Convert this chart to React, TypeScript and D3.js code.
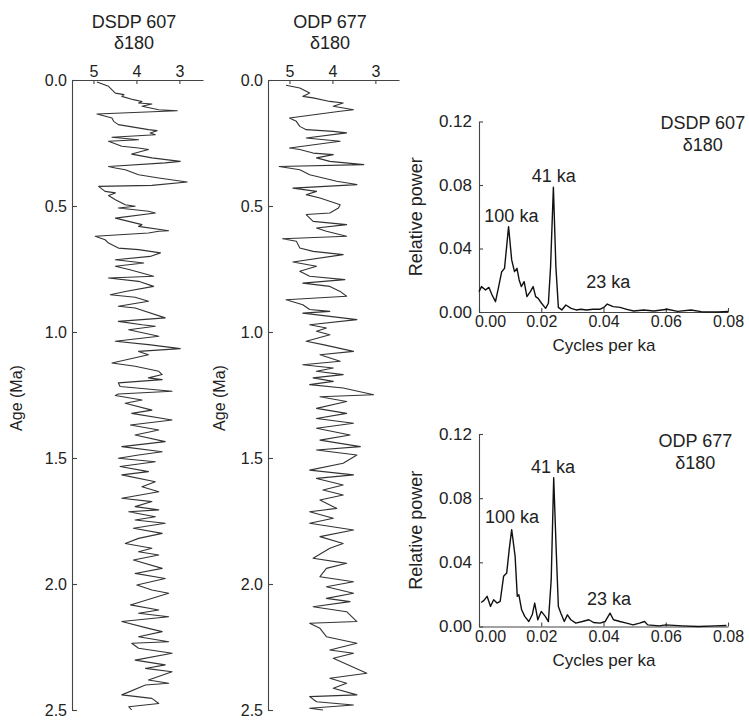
import React, { useEffect, useRef } from "react";
import * as d3 from "d3";

// ---- oxygen isotope records (age in Ma, d18O in permil) ----
const dsdpAge = [
  0.008, 0.025, 0.052, 0.058, 0.065, 0.078, 0.085, 0.091, 0.095, 0.104, 0.118, 0.122,
  0.135, 0.151, 0.164, 0.177, 0.197, 0.201, 0.21, 0.217, 0.227, 0.237, 0.243, 0.263,
  0.27, 0.276, 0.294, 0.309, 0.323, 0.329, 0.343, 0.349, 0.356, 0.376, 0.389, 0.405,
  0.418, 0.422, 0.442, 0.448, 0.458, 0.475, 0.495, 0.501, 0.508, 0.521, 0.528, 0.548,
  0.574, 0.581, 0.598, 0.6, 0.607, 0.62, 0.634, 0.647, 0.667, 0.673, 0.686, 0.7,
  0.713, 0.726, 0.739, 0.753, 0.779, 0.786, 0.799, 0.819, 0.839, 0.852, 0.862, 0.878,
  0.898, 0.905, 0.944, 0.958, 0.971, 0.977, 0.991, 1.017, 1.037, 1.05, 1.066, 1.077,
  1.09, 1.123, 1.136, 1.156, 1.169, 1.182, 1.189, 1.202, 1.216, 1.235, 1.246,
  1.252, 1.27, 1.283, 1.31, 1.323, 1.349, 1.369, 1.389, 1.409, 1.435, 1.455, 1.475,
  1.488, 1.501, 1.515, 1.534, 1.554, 1.567, 1.594, 1.614, 1.634, 1.66, 1.673, 1.693,
  1.706, 1.713, 1.733, 1.746, 1.759, 1.779, 1.799, 1.819, 1.839, 1.858, 1.872, 1.885,
  1.905, 1.938, 1.958, 1.978, 2.004, 2.024, 2.037, 2.083, 2.103, 2.116, 2.13, 2.149,
  2.176, 2.189, 2.209, 2.229, 2.235, 2.255, 2.275, 2.302, 2.321, 2.335, 2.348, 2.381,
  2.394, 2.401, 2.44, 2.454, 2.474, 2.487, 2.5,
];
const dsdpIso = [
  4.92, 4.65, 4.49, 4.29, 4.34, 4.07, 3.87, 3.95, 3.64, 3.87, 3.48, 3.05,
  4.92, 4.57, 4.53, 4.42, 3.72, 3.52, 3.68, 3.56, 4.57, 3.95, 4.65, 4.34,
  3.95, 3.72, 4.11, 3.64, 2.98, 3.33, 4.65, 4.49, 4.26, 3.95, 3.48, 2.82,
  3.64, 4.88, 4.73, 4.49, 4.65, 4.49, 4.26, 4.03, 4.42, 3.72, 3.56, 4.49,
  3.87, 3.95, 3.25, 3.48, 3.72, 4.96, 4.73, 4.65, 4.42, 3.95, 3.44, 3.68,
  4.49, 3.83, 4.49, 4.15, 3.6, 4.65, 3.95, 3.6, 4.26, 4.61, 4.03, 3.72,
  4.42, 4.03, 3.33, 4.42, 3.87, 3.56, 4.18, 3.48, 4.49, 3.72, 2.98, 3.95,
  3.72, 4.57, 4.03, 3.48, 3.4, 3.72, 3.4, 4.42, 4.38, 3.17, 4.42,
  4.49, 3.87, 4.26, 3.64, 4.11, 3.17, 4.14, 3.48, 4.03, 3.33, 4.34, 3.4,
  3.95, 4.42, 3.56, 4.38, 3.72, 4.34, 3.56, 3.87, 3.48, 4.34, 3.64, 4.03,
  3.48, 4.18, 3.56, 4.03, 3.33, 4.07, 3.4, 3.95, 4.26, 3.64, 3.95, 3.48,
  4.07, 3.4, 4.03, 3.33, 3.99, 3.64, 3.25, 4.14, 3.48, 3.95, 3.25, 4.34,
  3.72, 3.4, 3.95, 3.25, 4.11, 3.95, 3.17, 4.03, 3.33, 3.79, 3.17, 3.72,
  3.25, 3.79, 4.34, 3.64, 3.48, 4.18, 4.11,
];

const odpAge = [
  0.021, 0.032, 0.052, 0.065, 0.071, 0.085, 0.091, 0.104, 0.118, 0.124, 0.151, 0.164,
  0.184, 0.197, 0.204, 0.21, 0.23, 0.243, 0.27, 0.276, 0.29, 0.296, 0.309, 0.323,
  0.336, 0.343, 0.356, 0.376, 0.402, 0.415, 0.429, 0.442, 0.455, 0.468, 0.495, 0.508,
  0.528, 0.534, 0.561, 0.574, 0.587, 0.6, 0.62, 0.63, 0.64, 0.667, 0.68, 0.693,
  0.722, 0.739, 0.759, 0.779, 0.792, 0.806, 0.819, 0.839, 0.858, 0.872, 0.892, 0.911,
  0.918, 0.925, 0.951, 0.971, 0.984, 0.997, 1.011, 1.037, 1.05, 1.077, 1.09, 1.116,
  1.13, 1.143, 1.156, 1.169, 1.182, 1.196, 1.209, 1.222, 1.249,
  1.257, 1.276, 1.303, 1.323, 1.343, 1.362, 1.382, 1.409, 1.429, 1.455, 1.468, 1.488,
  1.521, 1.548, 1.567, 1.581, 1.607, 1.627, 1.647, 1.667, 1.7, 1.713, 1.739, 1.759,
  1.786, 1.812, 1.839, 1.858, 1.898, 1.918, 1.938, 1.971, 1.991, 2.011, 2.037, 2.057,
  2.07, 2.09, 2.11, 2.149, 2.156, 2.176, 2.209, 2.235, 2.262, 2.275, 2.295, 2.354,
  2.374, 2.394, 2.414, 2.44, 2.447, 2.467, 2.48, 2.493, 2.5,
];
const odpIso = [
  5.08, 4.76, 4.53, 4.69, 4.45, 4.06, 3.75, 3.98, 3.51, 3.82, 5.0, 4.84,
  4.76, 4.61, 3.98, 3.67, 4.61, 3.82, 5.0, 4.76, 4.45, 3.98, 4.37, 4.06,
  3.27, 5.24, 4.76, 4.53, 3.9, 3.43, 4.92, 4.37, 4.61, 4.29, 3.82, 3.86,
  4.06, 4.61, 4.45, 3.67, 4.37, 4.14, 3.67, 5.16, 4.84, 4.76, 4.45, 3.75,
  4.92, 4.37, 4.76, 4.53, 3.71, 4.69, 4.06, 3.82, 3.67, 5.08, 4.69, 4.53,
  4.06, 4.69, 3.43, 4.53, 4.14, 4.37, 4.06, 4.61, 4.22, 3.51, 4.29, 3.82,
  4.69, 3.98, 4.37, 3.75, 4.45, 3.98, 4.53, 3.75, 3.04,
  4.29, 3.67, 4.37, 3.67, 4.37, 3.51, 4.37, 3.59, 4.29, 3.35, 4.37, 3.43,
  3.75, 4.53, 3.51, 4.37, 3.75, 4.22, 3.75, 4.29, 3.9, 4.53, 3.98, 4.53,
  3.51, 4.29, 3.75, 4.06, 4.45, 3.67, 4.14, 4.29, 3.51, 4.14, 3.51, 4.14,
  3.59, 4.45, 3.67, 3.43, 4.53, 4.29, 4.14, 3.43, 4.06, 3.51, 3.98, 3.2,
  4.06, 3.67, 3.98, 3.43, 4.53, 4.37, 3.51, 4.53, 4.22,
];

// ---- power spectra (cycles per ka, relative power) ----
const dsdpFreq = [
  0.0, 0.0008, 0.0021, 0.0032, 0.0042, 0.0053, 0.0062, 0.0073, 0.0082, 0.0095, 0.0105, 0.0114,
  0.0122, 0.0129, 0.0136, 0.0145, 0.0154, 0.0165, 0.0174, 0.0182, 0.019, 0.0201, 0.0214, 0.0223,
  0.023, 0.0239, 0.0247, 0.0255, 0.0266, 0.0279, 0.0296, 0.0312, 0.0328, 0.0345, 0.0366, 0.0388,
  0.0401, 0.0412, 0.0431, 0.0453, 0.0475, 0.0497, 0.0529, 0.0562, 0.0605, 0.0638, 0.0681, 0.0714,
  0.0768, 0.08,
];
const dsdpPower = [
  0.0128, 0.016, 0.0139, 0.0155, 0.0107, 0.0065, 0.0149, 0.0254, 0.0275, 0.0538, 0.0328, 0.0254,
  0.0275, 0.0202, 0.016, 0.0191, 0.0097, 0.0128, 0.016, 0.0097, 0.0086, 0.0055, 0.0023, 0.0055,
  0.0286, 0.0786, 0.0286, 0.0029, 0.0013, 0.0044, 0.0023, 0.0013, 0.0017, 0.0013, 0.0017, 0.0017,
  0.0029, 0.005, 0.0034, 0.0029, 0.0017, 0.0006, 0.0013, 0.0006, 0.0017, 0.0004, 0.0013, 0.0002,
  0.0, 0.0003,
];
const odpFreq = [
  0.0007, 0.0016, 0.0026, 0.0037, 0.0047, 0.0058, 0.0068, 0.0079, 0.0089, 0.0097, 0.0105, 0.0116,
  0.0123, 0.0128, 0.0137, 0.0147, 0.016, 0.0171, 0.0179, 0.0189, 0.02, 0.0213, 0.0223, 0.0232,
  0.024, 0.0248, 0.0255, 0.0263, 0.0274, 0.0284, 0.0295, 0.0311, 0.0332, 0.0353, 0.0368, 0.0389,
  0.0405, 0.0421, 0.0432, 0.0453, 0.0474, 0.0495, 0.0516, 0.0532, 0.0542, 0.0579, 0.06, 0.0653,
  0.0705, 0.0758, 0.0795,
];
const odpPower = [
  0.015, 0.0163, 0.0188, 0.0125, 0.0167, 0.0146, 0.0156, 0.0313, 0.0333, 0.0479, 0.0604, 0.0438,
  0.0188, 0.0198, 0.0104, 0.0063, 0.0031, 0.0073, 0.0146, 0.0042, 0.0094, 0.0063, 0.0031, 0.0292,
  0.0927, 0.0479, 0.0125, 0.0083, 0.0031, 0.0073, 0.0042, 0.0021, 0.0031, 0.0042, 0.0025, 0.0021,
  0.0031, 0.0083, 0.0042, 0.0031, 0.0021, 0.001, 0.0021, 0.0031, 0.001, 0.0004, 0.001, 0.0004,
  0.0, 0.0004, 0.0006,
];

// peak labels, placed in data units (freq, power)
const dsdpLabels = [
  { text: "100 ka", f: 0.0104, p: 0.06 },
  { text: "41 ka", f: 0.024, p: 0.085 },
  { text: "23 ka", f: 0.0415, p: 0.0183 },
];
const odpLabels = [
  { text: "100 ka", f: 0.0106, p: 0.0676 },
  { text: "41 ka", f: 0.0238, p: 0.0988 },
  { text: "23 ka", f: 0.0418, p: 0.0165 },
];

const ageTicks = [0, 0.5, 1.0, 1.5, 2.0, 2.5];
const isoTicks = [5, 4, 3];
const freqTicks = [0, 0.02, 0.04, 0.06, 0.08];
const powerTicks = [0, 0.04, 0.08, 0.12];

const FONT = "'Liberation Sans', Arial, Helvetica, sans-serif";
const INK = "#222";

function styleAxis(g: any, size: number) {
  g.selectAll("path, line").attr("stroke", "#444").attr("stroke-width", 1.1);
  g.selectAll("text").attr("font-size", size).attr("font-family", FONT).attr("fill", INK);
}

function drawRecord(svg: any, c: any) {
  const x = d3.scaleLinear().domain([5.5, 2.45]).range([c.x0, c.x0 + 131]);
  const y = d3.scaleLinear().domain([0, 2.5]).range([80, 710]);

  const ay = svg.append("g").attr("transform", `translate(${c.x0},0)`)
    .call(d3.axisLeft(y).tickValues(ageTicks).tickFormat(d3.format(".1f"))
      .tickSizeInner(-5).tickSizeOuter(0).tickPadding(5));
  styleAxis(ay, 16);

  const ax = svg.append("g").attr("transform", "translate(0,80)")
    .call(d3.axisTop(x).tickValues(isoTicks).tickFormat(d3.format("d"))
      .tickSizeInner(-4).tickSizeOuter(0).tickPadding(3));
  styleAxis(ax, 16);

  const line = d3.line<number>()
    .x((d, i) => x(c.iso[i]))
    .y((d) => y(d));
  svg.append("path")
    .datum(c.age)
    .attr("d", line)
    .attr("fill", "none")
    .attr("stroke", "#333")
    .attr("stroke-width", 1.1)
    .attr("stroke-linejoin", "round");

  svg.append("text")
    .attr("x", c.titleX).attr("y", 28)
    .attr("text-anchor", "middle")
    .attr("font-size", 18).attr("font-family", FONT).attr("fill", INK)
    .text(c.title);
  svg.append("text")
    .attr("x", c.titleX).attr("y", 49)
    .attr("text-anchor", "middle")
    .attr("font-size", 18).attr("font-family", FONT).attr("fill", INK)
    .text("δ180");

  svg.append("text")
    .attr("transform", `translate(${c.labelX},398) rotate(-90)`)
    .attr("text-anchor", "middle")
    .attr("dominant-baseline", "middle")
    .attr("font-size", 16).attr("font-family", FONT).attr("fill", INK)
    .text("Age (Ma)");
}

function drawSpectrum(svg: any, c: any) {
  const x = d3.scaleLinear().domain([0, 0.08]).range([479, 728]);
  const y = d3.scaleLinear().domain([0, 0.12]).range([c.base, c.top]);

  const ay = svg.append("g").attr("transform", "translate(479,0)")
    .call(d3.axisLeft(y).tickValues(powerTicks).tickFormat(d3.format(".2f"))
      .tickSizeInner(-4).tickSizeOuter(0).tickPadding(7));
  styleAxis(ay, 17);

  const ax = svg.append("g").attr("transform", `translate(0,${c.base})`)
    .call(d3.axisBottom(x).tickValues(freqTicks).tickFormat(d3.format(".2f"))
      .tickSizeInner(-4).tickSizeOuter(0).tickPadding(4));
  styleAxis(ax, 16);
  ax.selectAll("text").filter((d: number) => d === 0).attr("dx", 11);

  const line = d3.line<number>()
    .x((d) => x(d))
    .y((d, i) => y(c.power[i]));
  svg.append("path")
    .datum(c.freq)
    .attr("d", line)
    .attr("fill", "none")
    .attr("stroke", "#111")
    .attr("stroke-width", 1.4)
    .attr("stroke-linejoin", "round");

  const txt = (tx: number, ty: number, s: string, size = 18) =>
    svg.append("text")
      .attr("x", tx).attr("y", ty)
      .attr("text-anchor", "middle")
      .attr("dominant-baseline", "middle")
      .attr("font-size", size).attr("font-family", FONT).attr("fill", INK)
      .text(s);

  c.labels.forEach((l: any) => txt(x(l.f), y(l.p), l.text));
  txt(x(c.nameF), y(c.nameP), c.name);
  txt(x(c.nameF), y(c.nameP) + 22, "δ180");
  txt(604, c.base + 35, "Cycles per ka", 17);

  svg.append("text")
    .attr("transform", `translate(417,${(c.base + c.top) / 2}) rotate(-90)`)
    .attr("text-anchor", "middle")
    .attr("dominant-baseline", "middle")
    .attr("font-size", 18).attr("font-family", FONT).attr("fill", INK)
    .text("Relative power");
}

export default function App() {
  const ref = useRef<SVGSVGElement | null>(null);

  useEffect(() => {
    document.body.style.margin = "0";
    const svg = d3.select(ref.current);
    svg.selectAll("*").remove();

    drawRecord(svg, { x0: 72, titleX: 134, labelX: 18, title: "DSDP 607", age: dsdpAge, iso: dsdpIso });
    drawRecord(svg, { x0: 268, titleX: 330, labelX: 221, title: "ODP 677", age: odpAge, iso: odpIso });

    drawSpectrum(svg, {
      base: 312, top: 121.5, name: "DSDP 607", nameF: 0.0719, nameP: 0.118,
      freq: dsdpFreq, power: dsdpPower, labels: dsdpLabels,
    });
    drawSpectrum(svg, {
      base: 626.5, top: 434, name: "ODP 677", nameF: 0.0695, nameP: 0.115,
      freq: odpFreq, power: odpPower, labels: odpLabels,
    });
  }, []);

  return <svg ref={ref} width={749} height={720} style={{ display: "block", background: "#fff" }} />;
}
